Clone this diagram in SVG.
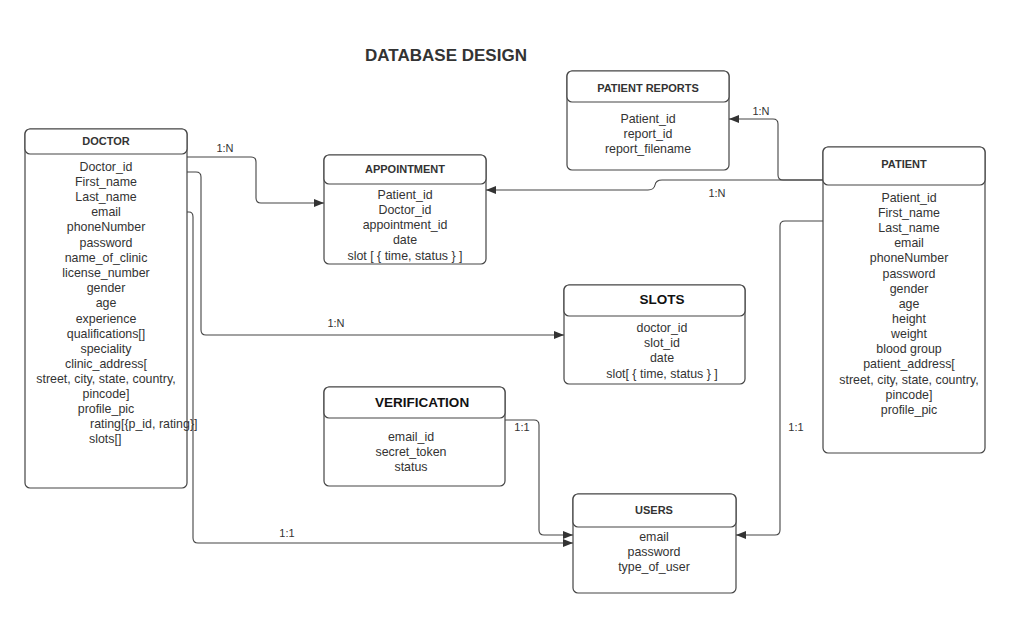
<svg xmlns="http://www.w3.org/2000/svg" width="1012" height="620" viewBox="0 0 1012 620">
<defs>
<style>
.box{fill:#fff;stroke:#444;stroke-width:1.2}
.t{font-family:"Liberation Sans",Arial,sans-serif;font-size:12.4px;fill:#333;text-anchor:middle}
.s{text-anchor:start}
.h{font-family:"Liberation Sans",Arial,sans-serif;font-size:11px;font-weight:bold;fill:#333;text-anchor:middle}
.hb{font-family:"Liberation Sans",Arial,sans-serif;font-size:13.5px;font-weight:bold;fill:#111;text-anchor:middle}
.lbl{font-family:"Liberation Sans",Arial,sans-serif;font-size:11px;fill:#333;text-anchor:middle}
.c{fill:none;stroke:#444;stroke-width:1.1}
</style>
<marker id="arr" viewBox="0 0 10 8" refX="10" refY="4" markerWidth="10" markerHeight="8" markerUnits="userSpaceOnUse" orient="auto">
<path d="M0,0 L10,4 L0,8 Z" fill="#333"/>
</marker>
</defs>
<rect width="1012" height="620" fill="#fff"/>
<text x="446" y="61" font-family="Liberation Sans,Arial,sans-serif" font-size="17" font-weight="bold" fill="#333" text-anchor="middle">DATABASE DESIGN</text>

<g id="connectors">
<path class="c" d="M187,157 H251 Q256,157 256,162 V198 Q256,203 261,203 H324" marker-end="url(#arr)"/>
<path class="c" d="M187,172 H196 Q201,172 201,177 V330 Q201,335 206,335 H564" marker-end="url(#arr)"/>
<path class="c" d="M187,212 H189 Q193,212 193,217 V538 Q193,543 198,543 H573" marker-end="url(#arr)"/>
<path class="c" d="M823,180 H783 Q778,180 778,175 V124 Q778,119 773,119 H729" marker-end="url(#arr)"/>
<path class="c" d="M823,180 H662 Q656,180 655,185 Q654,190 648,190 H486" marker-end="url(#arr)"/>
<path class="c" d="M823,221 H785 Q780,221 780,226 V530 Q780,535 775,535 H736" marker-end="url(#arr)"/>
<path class="c" d="M505,420 H534 Q539,420 539,425 V530 Q539,535 544,535 H573" marker-end="url(#arr)"/>
<text class="lbl" x="225" y="152">1:N</text>
<text class="lbl" x="336" y="327">1:N</text>
<text class="lbl" x="287" y="537">1:1</text>
<text class="lbl" x="761" y="115">1:N</text>
<text class="lbl" x="717" y="197">1:N</text>
<text class="lbl" x="796" y="431">1:1</text>
<text class="lbl" x="522" y="431">1:1</text>
</g>

<g id="doctor">
<rect class="box" x="25" y="129" width="162" height="359" rx="5"/>
<rect class="box" x="25" y="129" width="162" height="25" rx="5"/>
<text class="h" x="106" y="145">DOCTOR</text>
<text class="t" x="106" y="171">Doctor_id</text>
<text class="t" x="106" y="186">First_name</text>
<text class="t" x="106" y="201">Last_name</text>
<text class="t" x="106" y="216">email</text>
<text class="t" x="106" y="231">phoneNumber</text>
<text class="t" x="106" y="247">password</text>
<text class="t" x="106" y="262">name_of_clinic</text>
<text class="t" x="106" y="277">license_number</text>
<text class="t" x="106" y="292">gender</text>
<text class="t" x="106" y="307">age</text>
<text class="t" x="106" y="323">experience</text>
<text class="t" x="106" y="338">qualifications[]</text>
<text class="t" x="106" y="353">speciality</text>
<text class="t" x="106" y="368">clinic_address[</text>
<text class="t" x="106" y="383">street, city, state, country,</text>
<text class="t" x="106" y="398">pincode]</text>
<text class="t" x="106" y="413">profile_pic</text>
<text class="t s" x="90" y="428">rating[{p_id, rating}]</text>
<text class="t s" x="89" y="443">slots[]</text>
</g>

<g id="appointment">
<rect class="box" x="324" y="155" width="162" height="109" rx="5"/>
<rect class="box" x="324" y="155" width="162" height="29" rx="5"/>
<text class="h" x="405" y="173">APPOINTMENT</text>
<text class="t" x="405" y="199">Patient_id</text>
<text class="t" x="405" y="214">Doctor_id</text>
<text class="t" x="405" y="229">appointment_id</text>
<text class="t" x="405" y="244">date</text>
<text class="t" x="405" y="260">slot [ { time, status } ]</text>
</g>

<g id="patient-reports">
<rect class="box" x="567" y="71" width="162" height="99" rx="5"/>
<rect class="box" x="567" y="71" width="162" height="31" rx="5"/>
<text class="h" x="648" y="92">PATIENT REPORTS</text>
<text class="t" x="648" y="123">Patient_id</text>
<text class="t" x="648" y="138">report_id</text>
<text class="t" x="648" y="153">report_filename</text>
</g>

<g id="patient">
<rect class="box" x="823" y="147" width="162" height="306" rx="5"/>
<rect class="box" x="823" y="147" width="162" height="38" rx="5"/>
<text class="h" x="904" y="168">PATIENT</text>
<text class="t" x="909" y="202">Patient_id</text>
<text class="t" x="909" y="217">First_name</text>
<text class="t" x="909" y="232">Last_name</text>
<text class="t" x="909" y="247">email</text>
<text class="t" x="909" y="262">phoneNumber</text>
<text class="t" x="909" y="278">password</text>
<text class="t" x="909" y="293">gender</text>
<text class="t" x="909" y="308">age</text>
<text class="t" x="909" y="323">height</text>
<text class="t" x="909" y="338">weight</text>
<text class="t" x="909" y="353">blood group</text>
<text class="t" x="909" y="368">patient_address[</text>
<text class="t" x="909" y="384">street, city, state, country,</text>
<text class="t" x="909" y="399">pincode]</text>
<text class="t" x="909" y="414">profile_pic</text>
</g>

<g id="slots">
<rect class="box" x="564" y="285" width="181" height="99" rx="5"/>
<rect class="box" x="564" y="285" width="181" height="31" rx="5"/>
<text class="hb" x="662" y="304">SLOTS</text>
<text class="t" x="662" y="332">doctor_id</text>
<text class="t" x="662" y="347">slot_id</text>
<text class="t" x="662" y="362">date</text>
<text class="t" x="662" y="378">slot[ { time, status } ]</text>
</g>

<g id="verification">
<rect class="box" x="324" y="387" width="181" height="99" rx="5"/>
<rect class="box" x="324" y="387" width="181" height="31" rx="5"/>
<text class="hb" x="422" y="407">VERIFICATION</text>
<text class="t" x="411" y="441">email_id</text>
<text class="t" x="411" y="456">secret_token</text>
<text class="t" x="411" y="471">status</text>
</g>

<g id="users">
<rect class="box" x="573" y="494" width="163" height="99" rx="5"/>
<rect class="box" x="573" y="494" width="163" height="33" rx="5"/>
<text class="h" x="654" y="514">USERS</text>
<text class="t" x="654" y="541">email</text>
<text class="t" x="654" y="556">password</text>
<text class="t" x="654" y="571">type_of_user</text>
</g>
</svg>
